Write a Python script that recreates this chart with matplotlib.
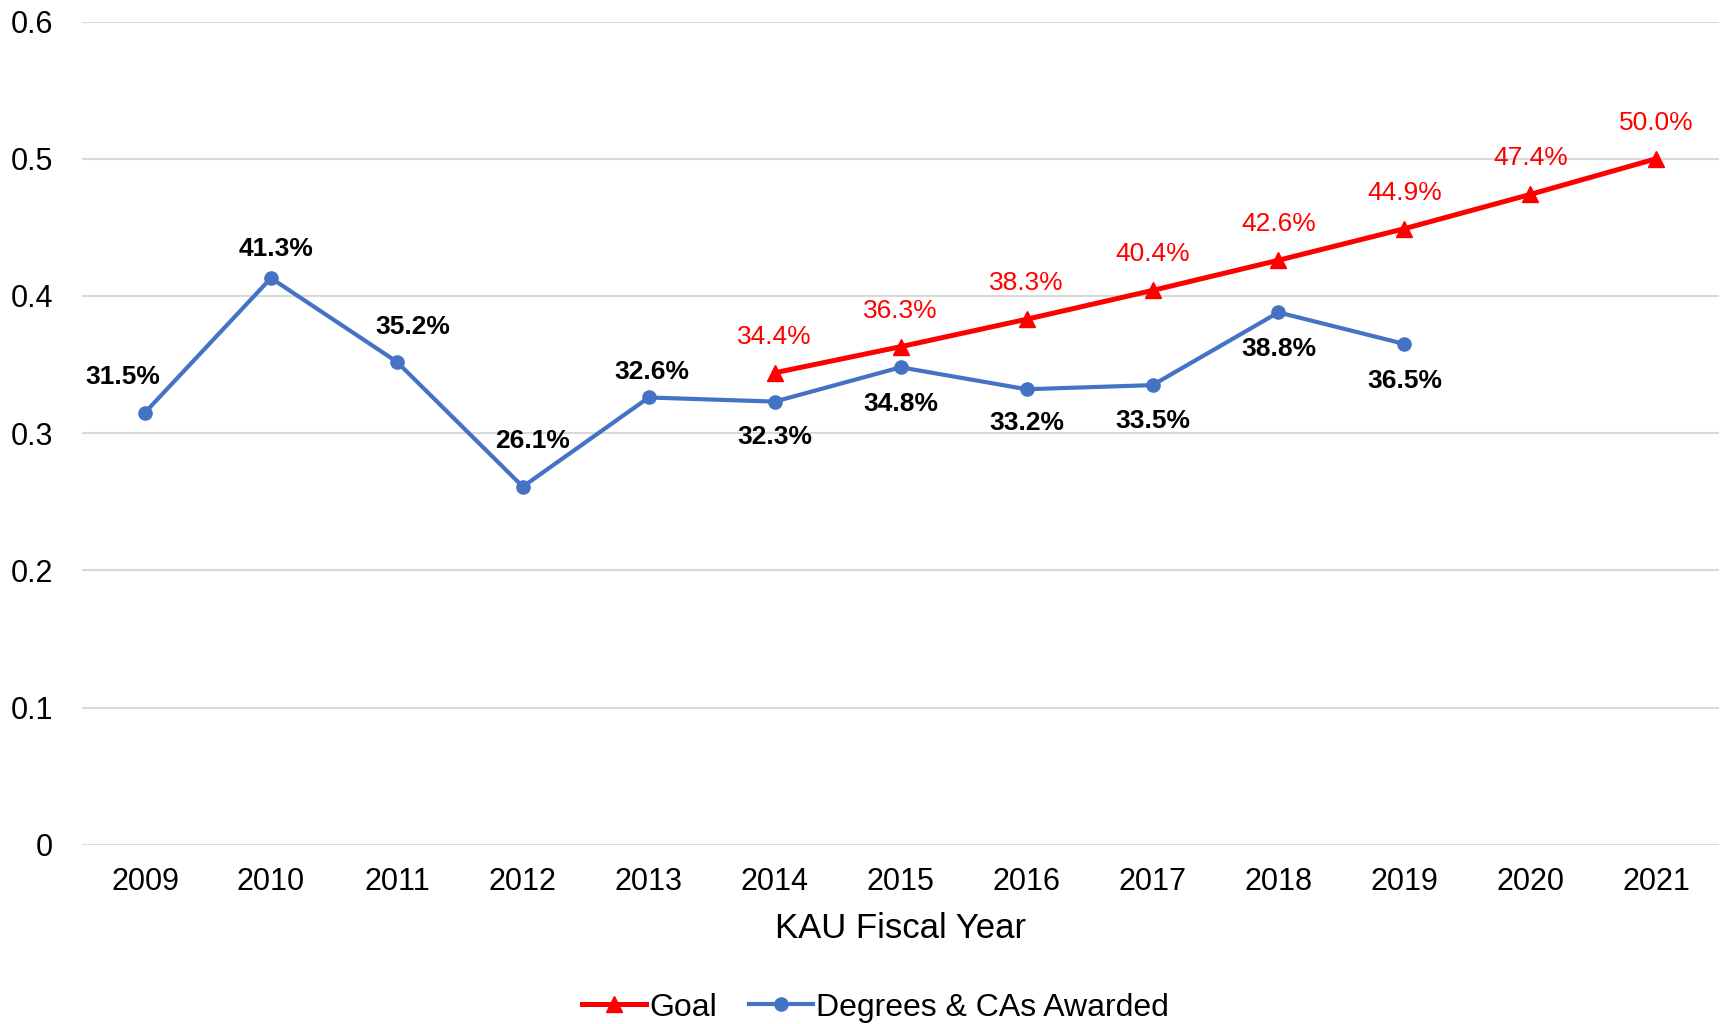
import numpy as np
import matplotlib
matplotlib.use("Agg")
import matplotlib.pyplot as plt

plt.rcParams['font.family'] = ['Liberation Sans', 'DejaVu Sans']

# donnees
years = ['2009', '2010', '2011', '2012', '2013', '2014', '2015',
         '2016', '2017', '2018', '2019', '2020', '2021']
awarded = [0.315, 0.413, 0.352, 0.261, 0.326, 0.323, 0.348,
           0.332, 0.335, 0.388, 0.365]
goal_years = years[5:]
goal = [0.344, 0.363, 0.383, 0.404, 0.426, 0.449, 0.474, 0.500]

# decalage des etiquettes (pixels)
blue_off = [(-22, 36), (5, 29), (16, 35), (10, 46), (3, 25), (0, -35),
            (0, -37), (0, -34), (0, -36), (0, -37), (0, -37)]

fig = plt.figure(figsize=(17.27, 10.24), dpi=100)
ax = fig.add_axes([0.0475, 0.175, 0.948, 0.804])

x_all = np.arange(len(years))
x_goal = x_all[5:]
x_aw = x_all[:len(awarded)]

ax.plot(x_goal, goal, color='#ff0000', lw=3.6, marker='^', ms=12,
        label='Goal', zorder=3)
ax.plot(x_aw, awarded, color='#4472c4', lw=3.0, marker='o', ms=9.5,
        label='Degrees & CAs Awarded', zorder=4)

for xi, v in zip(x_goal, goal):
    ax.annotate(f'{v*100:.1f}%', (xi, v), xytext=(0, 36), textcoords='offset pixels',
                ha='center', va='center', fontsize=19, color='#ff0000')
for xi, v, (dx, dy) in zip(x_aw, awarded, blue_off):
    ax.annotate(f'{v*100:.1f}%', (xi, v), xytext=(dx, dy), textcoords='offset pixels',
                ha='center', va='center', fontsize=19, color='black', fontweight='bold')

ax.set_xlim(-0.5, len(years) - 0.5)
ax.set_ylim(0, 0.6)
ax.set_yticks([0, 0.1, 0.2, 0.3, 0.4, 0.5, 0.6])
ax.set_yticklabels(['0', '0.1', '0.2', '0.3', '0.4', '0.5', '0.6'])
ax.set_xticks(x_all)
ax.set_xticklabels(years)
ax.tick_params(axis='both', length=0, labelsize=22, colors='black')
ax.tick_params(axis='x', pad=16)
ax.tick_params(axis='y', pad=21)
ax.grid(axis='y', color='#d9d9d9', lw=1.5)
ax.set_axisbelow(True)
for s in ax.spines.values():
    s.set_visible(False)
ax.set_xlabel('KAU Fiscal Year', fontsize=25, labelpad=11)

fig.legend(loc='center', bbox_to_anchor=(0.507, 0.016), ncol=2, frameon=False,
           fontsize=23, handlelength=2.0, handletextpad=0.1, columnspacing=1.0)

fig.savefig('out.png', dpi=100)
